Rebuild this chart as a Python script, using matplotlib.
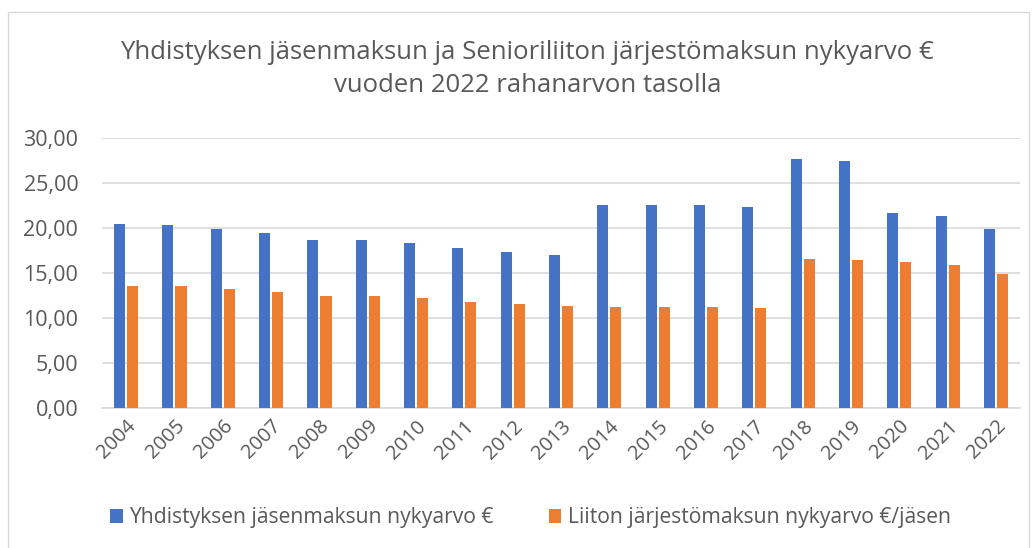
import numpy as np
import matplotlib.pyplot as plt
from matplotlib.patches import Rectangle

vuodet = [str(v) for v in range(2004, 2023)]
yhdistys = [20.4, 20.3, 19.9, 19.4, 18.7, 18.7, 18.3, 17.8, 17.3, 17.0,
            22.5, 22.5, 22.5, 22.3, 27.7, 27.4, 21.7, 21.3, 19.9]
liitto = [13.6, 13.5, 13.2, 12.9, 12.4, 12.4, 12.2, 11.8, 11.5, 11.3,
          11.2, 11.2, 11.2, 11.1, 16.6, 16.4, 16.2, 15.9, 14.9]
sarjat = ['Yhdistyksen jäsenmaksun nykyarvo €', 'Liiton järjestömaksun nykyarvo €/jäsen']

plt.rcParams['font.family'] = ['Open Sans', 'DejaVu Sans']
teksti = '#595959'

fig = plt.figure(figsize=(10.34, 5.48), dpi=100)
ax = fig.add_axes([0.0986, 0.2555, 0.888, 0.4927])

x = np.arange(len(vuodet))
w = 0.23
ax.bar(x - 0.135, yhdistys, w, color='#4472C4', label=sarjat[0], zorder=3)
ax.bar(x + 0.135, liitto, w, color='#ED7D31', label=sarjat[1], zorder=3)

ax.set_xlim(-0.5, len(vuodet) - 0.5)
ax.set_ylim(0, 30)
ax.set_yticks(np.arange(0, 31, 5))
ax.set_yticklabels([f'{v:.2f}'.replace('.', ',') for v in np.arange(0, 31, 5)],
                   fontsize=15.5, color=teksti)
ax.set_xticks(x)
ax.set_xticklabels(vuodet, rotation=45, ha='right', rotation_mode='anchor',
                   fontsize=14.5, color=teksti)
ax.tick_params(axis='y', length=0, pad=17)
ax.tick_params(axis='x', length=0, pad=6)
ax.grid(axis='y', color='#D9D9D9', linewidth=1.2, zorder=0)
for s in ['top', 'right', 'left']:
    ax.spines[s].set_visible(False)
ax.spines['bottom'].set_color('#D9D9D9')
ax.spines['bottom'].set_linewidth(1.2)

fig.text(0.51, 0.874, 'Yhdistyksen jäsenmaksun ja Senioriliiton järjestömaksun nykyarvo €\nvuoden 2022 rahanarvon tasolla',
         ha='center', va='center', fontsize=18.5, color=teksti, linespacing=1.4)

fig.legend(loc='center', bbox_to_anchor=(0.513, 0.055), ncol=2, frameon=False,
           fontsize=15.2, labelcolor=teksti, handlelength=0.6, handleheight=0.6,
           handletextpad=0.3, columnspacing=2.6)

fig.patches.append(Rectangle((8 / 1034, -0.01), 1021 / 1034, 1 - 12 / 548 + 0.01,
                             transform=fig.transFigure, fill=False,
                             edgecolor='#D9D9D9', linewidth=1))

fig.savefig('out.png', dpi=100)
